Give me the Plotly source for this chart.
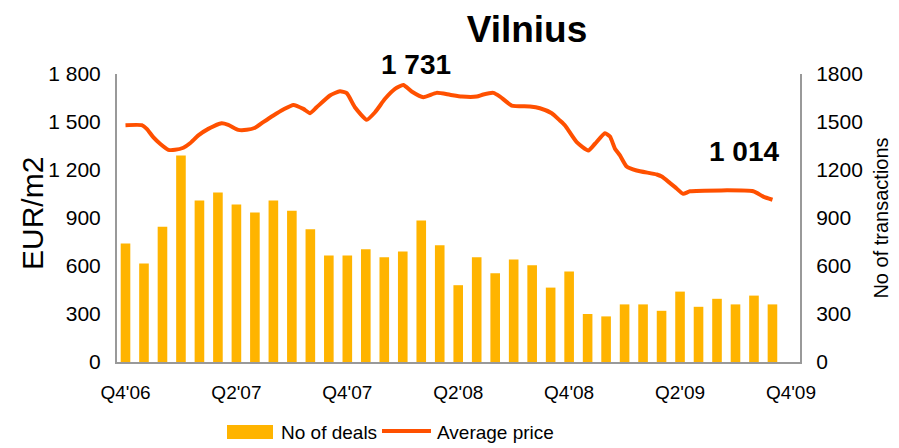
import plotly.graph_objects as go

# ---- data ----
month_idx = list(range(36))
deals = [740, 615, 845, 1290, 1010, 1060, 985, 935, 1010, 945, 830, 665,
         665, 705, 655, 690, 885, 730, 480, 655, 555, 640, 605, 465,
         565, 300, 285, 360, 360, 320, 440, 345, 395, 360, 415, 360]

price_t = [0.0, 0.88, 1.15, 1.50, 1.87, 2.32, 2.68, 3.13, 3.49, 3.94, 4.48, 5.20,
           5.56, 6.10, 6.56, 7.01, 7.45, 8.00, 8.54, 9.08, 9.62, 9.98, 10.34, 11.06,
           11.60, 11.97, 12.41, 13.05, 13.50, 14.04, 14.58, 15.03, 15.48, 16.11, 16.83,
           17.55, 18.19, 19.00, 19.36, 19.90, 20.26, 20.89, 21.88, 22.42, 23.06, 23.50,
           23.78, 24.41, 25.04, 25.40, 25.94, 26.21, 26.48, 26.75, 27.11, 27.65, 28.74,
           29.01, 29.46, 29.73, 30.17, 30.54, 33.96, 34.50, 35.0]
price = [1480, 1480, 1457, 1405, 1364, 1326, 1326, 1339, 1367, 1416, 1457, 1492,
         1482, 1451, 1451, 1464, 1499, 1541, 1578, 1607, 1582, 1555, 1592, 1666,
         1692, 1680, 1592, 1514, 1561, 1645, 1707, 1731, 1691, 1655, 1682,
         1670, 1659, 1659, 1672, 1682, 1659, 1603, 1597, 1586, 1555, 1509,
         1478, 1374, 1322, 1364, 1430, 1409, 1333, 1291, 1222, 1197, 1172,
         1159, 1118, 1093, 1051, 1067, 1067, 1034, 1014]

tick_pos = [0, 6, 12, 18, 24, 30, 36]
tick_text = ["Q4'06", "Q2'07", "Q4'07", "Q2'08", "Q4'08", "Q2'09", "Q4'09"]
y_ticks = [0, 300, 600, 900, 1200, 1500, 1800]
y_left_text = ["0", "300", "600", "900", "1 200", "1 500", "1 800"]
y_right_text = ["0", "300", "600", "900", "1200", "1500", "1800"]

peak_idx = price.index(max(price))
last_idx = len(price) - 1

BAR_C = "#FFB400"
LINE_C = "#FF5000"
AXIS_C = "#999999"
FONT = "Liberation Sans, Arial, sans-serif"

# page has an 8px body margin; figure is sized so it fills the rest of the window
OFF = 8
FW, FH = 899 - OFF, 448 - OFF
L, T = 117 - OFF, 74 - OFF
W, H = 683, 288

fig = go.Figure()
fig.add_trace(go.Bar(x=month_idx, y=deals, name="No of deals", marker_color=BAR_C,
                     marker_line_width=0, yaxis="y2", showlegend=False))
fig.add_trace(go.Scatter(x=price_t, y=price, name="Average price", mode="lines",
                         line=dict(color=LINE_C, width=4, shape="spline", smoothing=0.5),
                         yaxis="y", showlegend=False))

fig.update_layout(
    width=FW, height=FH,
    margin=dict(l=L, r=FW - L - W, t=T, b=FH - T - H, autoexpand=False),
    paper_bgcolor="white", plot_bgcolor="white",
    font=dict(family=FONT, color="black", size=19),
    bargap=0.48,
    title=dict(text="<b>Vilnius</b>", x=(527 - OFF) / FW, xanchor="center",
               y=1 - (29 - OFF) / FH, yanchor="middle",
               font=dict(size=37, family=FONT, color="black")),
    xaxis=dict(range=[-0.46, 36.49], tickvals=tick_pos, ticktext=tick_text,
               showline=True, linecolor=AXIS_C, linewidth=2, showgrid=False,
               zeroline=False, ticks="", tickfont=dict(size=19), ticklabelstandoff=12),
    yaxis=dict(range=[0, 1800], tickvals=y_ticks, ticktext=y_left_text,
               showline=True, linecolor=AXIS_C, linewidth=2, showgrid=False,
               zeroline=False, ticks="", tickfont=dict(size=21), ticklabelstandoff=10),
    yaxis2=dict(range=[0, 1800], tickvals=y_ticks, ticktext=y_right_text,
                overlaying="y", side="right",
                showline=True, linecolor=AXIS_C, linewidth=2, showgrid=False,
                zeroline=False, ticks="", tickfont=dict(size=21), ticklabelstandoff=10,
                title=dict(text="No of transactions", standoff=12,
                           font=dict(size=20, family=FONT, color="black"))),
)

def px(x): return (x - OFF - L) / W
def py(y): return (T + H - (y - OFF)) / H

# left axis title
fig.add_annotation(xref="paper", yref="paper", x=px(32), y=py(214), text="EUR/m2",
                   textangle=-90, showarrow=False, xanchor="center", yanchor="middle",
                   font=dict(size=30, family=FONT, color="black"))

# data labels for peak and latest value
fig.add_annotation(x=price_t[peak_idx], y=price[peak_idx], xref="x", yref="y",
                   text="<b>1 731</b>", showarrow=False, xshift=13, yshift=21,
                   font=dict(size=28, family=FONT, color="black"))
fig.add_annotation(x=price_t[last_idx], y=price[last_idx], xref="x", yref="y",
                   text="<b>1 014</b>", showarrow=False, xshift=-28, yshift=48,
                   font=dict(size=28, family=FONT, color="black"))

# custom legend
fig.add_shape(type="rect", xref="paper", yref="paper", x0=px(227), x1=px(273),
              y0=py(439), y1=py(425), fillcolor=BAR_C, line_width=0)
fig.add_annotation(xref="paper", yref="paper", x=px(279), y=py(432), xanchor="left",
                   yanchor="middle", text="No of deals", showarrow=False,
                   font=dict(size=19, family=FONT, color="black"))
fig.add_shape(type="line", xref="paper", yref="paper", x0=px(382), x1=px(431),
              y0=py(431), y1=py(431), line=dict(color=LINE_C, width=4))
fig.add_annotation(xref="paper", yref="paper", x=px(435), y=py(432), xanchor="left",
                   yanchor="middle", text="Average price", showarrow=False,
                   font=dict(size=19, family=FONT, color="black"))

fig.write_html("out.html")
